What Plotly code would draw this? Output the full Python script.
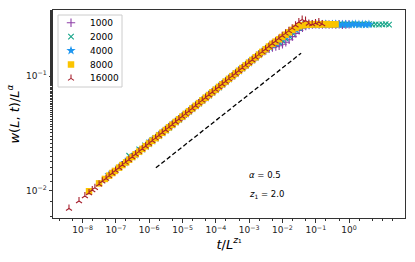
import plotly.graph_objects as go

# time steps at which the width was recorded
T = [1, 2, 3, 4, 5, 6, 8, 10, 13, 16, 20, 25, 32, 40, 50, 63, 79, 100, 126, 158, 200, 251,
     316, 398, 501, 631, 794, 1000, 1259, 1585, 1995, 2512, 3162, 3981, 5012, 6310, 7943,
     10000, 12589, 15849, 19953, 25119, 31623, 39811, 50119, 63096, 79433, 100000, 125893,
     158489, 199526, 251189, 316228, 398107, 501187, 630957, 794328, 1000000, 1258925,
     1584893, 1995262, 2511886, 3162278, 3981072, 5011872, 6309573, 7943282, 10000000,
     12589254, 15848932, 19952623, 25118864, 31622777, 39810717, 50118723, 63095734]

sizes = [1000, 2000, 4000, 8000, 16000]
alpha = 0.5
z1 = 2.0

# w(L,t)/L^alpha for each system size
y_1000 = [.02640, .03080, .03380, .03605, .03795, .03950, .04215,
          .04436, .04683, .04943, .05218, .05508, .05814, .06138, .06479, .06839, .07219,
          .07621, .08045, .08492, .08964, .09462, .09989, .1054, .1113, .1175, .1240, .1309,
          .1382, .1459, .1540,
          .1610, .1673, .1730, .1778, .1808, .1838, .1894, .1971, .2077, .2208, .2358,
          .2505, .2634, .2729, .2784,
          .2815, .2826, .2809, .2821, .2832, .2812, .2824, .2818, .2830, .2807, .2822, .2827]
y_2000 = [.02020, .02300, .02490, .02640, .02775, .02880, .03065,
          .03206, .03385, .03573, .03771, .03981, .04202, .04436, .04683, .04943, .05218,
          .05508, .05814, .06138, .06479, .06839, .07219, .07621, .08045, .08492, .08964,
          .09462, .09989, .1054, .1113, .1175, .1240, .1309, .1382, .1459, .1540, .1626,
          .1707, .1784, .1855, .1909, .1965, .2039, .2123, .2235, .2374, .2517, .2641,
          .2731, .2785, .2812,
          .2820, .2809, .2831, .2815, .2826, .2804, .2823, .2836, .2812, .2819, .2829,
          .2808, .2825, .2833, .2811, .2822, .2817, .2834, .2806, .2828, .2815, .2824,
          .2838, .2813]
y_4000 = [.01385, .01605, .01760, .01878, .01980, .02063, .02200,
          .02317, .02446, .02582, .02726, .02877, .03037, .03206, .03385, .03573, .03771,
          .03981, .04202, .04436, .04683, .04943, .05218, .05508, .05814, .06138, .06479,
          .06839, .07219, .07621, .08045, .08492, .08964, .09462, .09989, .1054, .1113,
          .1175, .1240, .1309, .1382, .1459, .1540, .1626, .1716,
          .1802, .1883, .1959, .2039, .2128, .2216, .2333, .2464, .2583, .2682, .2759,
          .2799, .2812,
          .2822, .2814, .2829, .2818, .2833, .2810, .2825, .2837, .2816, .2821, .2831,
          .2812, .2827, .2835, .2819, .2824, .2813, .2830]
y_8000 = [.00990, .01160, .01268, .01355, .01428, .01490, .01592,
          .01675, .01768, .01866, .01970, .02080, .02195, .02317, .02446, .02582, .02726,
          .02877, .03037, .03206, .03385, .03573, .03771, .03981, .04202, .04436, .04683,
          .04943, .05218, .05508, .05814, .06138, .06479, .06839, .07219, .07621, .08045,
          .08492, .08964, .09462, .09989, .1054, .1113, .1175, .1240, .1309, .1382, .1459,
          .1540, .1626, .1716, .1811, .1912,
          .1999, .2092, .2195, .2298, .2406, .2527, .2636, .2723, .2773, .2799, .2812,
          .2825, .2838, .2816, .2829, .2843, .2820, .2834, .2827]
y_16000 = [.00700, .00815, .00900, .00955, .01015, .01062, .01140,
           .01211, .01278, .01349, .01424, .01503, .01587, .01675, .01768, .01866, .01970,
           .02080, .02195, .02317, .02446, .02582, .02726, .02877, .03037, .03206, .03385,
           .03573, .03771, .03981, .04202, .04436, .04683, .04943, .05218, .05508, .05814,
           .06138, .06479, .06839, .07219, .07621, .08045, .08492, .08964, .09462, .09989,
           .1054, .1113, .1175, .1240, .1309, .1382, .1459, .1540, .1626, .1716, .1811, .1912,
           .2015, .2125, .2245, .2360, .2480, .2620, .2780, .2960, .3120, .3050, .2880,
           .2840, .2905, .2960, .2850]

# power-law guide line
guide_x = [1.585e-6, 3.63e-2]
guide_y = [0.01585, 0.1585]

x_ticks = [1e-8, 1e-7, 1e-6, 1e-5, 1e-4, 1e-3, 1e-2, 1e-1, 1e0]
x_ticktext = ["10<sup>−8</sup>", "10<sup>−7</sup>", "10<sup>−6</sup>", "10<sup>−5</sup>",
              "10<sup>−4</sup>", "10<sup>−3</sup>", "10<sup>−2</sup>", "10<sup>−1</sup>",
              "10<sup>0</sup>"]
y_ticks = [1e-2, 1e-1]
y_ticktext = ["10<sup>−2</sup>", "10<sup>−1</sup>"]

series_y = [y_1000, y_2000, y_4000, y_8000, y_16000]
colors = ["#8e3fa8", "#17a589", "#1e96f0", "#fbc400", "#a6202e"]
symbols = ["cross-thin", "x-thin", "star", "square", "y-up"]
msizes = [6, 5.5, 7, 6.5, 5]
thin_set = ("cross-thin", "x-thin", "y-up")

fig = go.Figure()
for L, ys, c, s, ms in zip(sizes, series_y, colors, symbols, msizes):
    xs = [t / L ** z1 for t in T[:len(ys)]]
    fig.add_trace(go.Scatter(
        x=xs, y=ys, mode="markers", name=str(L), showlegend=False,
        marker=dict(symbol=s, size=ms, color=c,
                    line=dict(color=c, width=1.1 if s in thin_set else 0)),
    ))

fig.add_trace(go.Scatter(x=guide_x, y=guide_y, mode="lines", showlegend=False,
                         line=dict(color="black", width=1.3, dash="4.5px,2.5px")))

# hand-placed legend (pixel-like overlay axes), matplotlib style compact box
leg_left, leg_top, leg_w, leg_h = 58, 15, 64, 72
row0, row_step = 22.8, 13.9
fig.add_shape(type="rect", xref="x2", yref="y2", x0=leg_left, x1=leg_left + leg_w,
              y0=leg_top, y1=leg_top + leg_h, line=dict(color="#cccccc", width=1),
              fillcolor="white", layer="below")
for i, (L, c, s, ms) in enumerate(zip(sizes, colors, symbols, msizes)):
    yy = row0 + row_step * i
    fig.add_trace(go.Scatter(
        x=[leg_left + 13], y=[yy], xaxis="x2", yaxis="y2", mode="markers",
        showlegend=False, hoverinfo="skip",
        marker=dict(symbol=s, size=ms, color=c,
                    line=dict(color=c, width=1.1 if s in thin_set else 0))))
    fig.add_annotation(x=leg_left + 30, y=yy, xref="x2", yref="y2", text=str(L),
                       showarrow=False, xanchor="left", yanchor="middle",
                       font=dict(family="DejaVu Sans", size=9, color="black"))

font = "DejaVu Sans"


def log_axis(rng, tv, tt, title):
    return dict(type="log", range=rng, tickvals=tv, ticktext=tt,
                showgrid=False, zeroline=False, showline=True, mirror=True,
                linecolor="#333333", linewidth=1, ticks="outside", ticklen=3.5,
                tickwidth=0.8, tickcolor="#333333",
                tickfont=dict(family=font, size=9, color="#222222"),
                minor=dict(ticks="outside", ticklen=2, tickwidth=0.6, tickcolor="#333333",
                           showgrid=False),
                title=dict(text=title, font=dict(family=font, size=13, color="black"),
                           standoff=3))


fig.add_annotation(x=0.551, y=0.207, xref="paper", yref="paper", xanchor="left",
                   yanchor="middle", showarrow=False, text="<i>α</i> = 0.5",
                   font=dict(family=font, size=8.5, color="black"))
fig.add_annotation(x=0.551, y=0.111, xref="paper", yref="paper", xanchor="left",
                   yanchor="middle", showarrow=False, text="<i>z</i><sub>1</sub> = 2.0",
                   font=dict(family=font, size=8.5, color="black"))

fig.update_layout(
    width=415, height=262,
    margin=dict(l=53, r=10, t=10, b=44),
    paper_bgcolor="white", plot_bgcolor="white",
    showlegend=False,
    xaxis=log_axis([-8.888, 1.678], x_ticks, x_ticktext,
                   "<i>t</i>/<i>L</i><sup><i>z</i>₁</sup>"),
    yaxis=log_axis([-2.2375, -0.4235], y_ticks, y_ticktext,
                   "<i>w</i>(<i>L</i>, <i>t</i>)/<i>L</i><sup><i>α</i></sup>"),
    xaxis2=dict(overlaying="x", anchor="y2", range=[53, 405], visible=False, fixedrange=True),
    yaxis2=dict(overlaying="y", anchor="x2", range=[218, 10], visible=False, fixedrange=True),
)

fig.write_html("out.html", config={"displayModeBar": False},
               post_script="document.body.style.margin='0px';")
